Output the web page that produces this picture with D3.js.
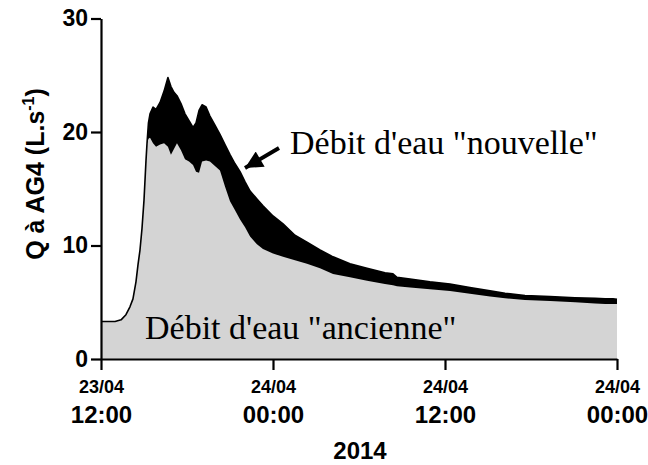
<!DOCTYPE html>
<html>
<head>
<meta charset="utf-8">
<script src="https://cdn.jsdelivr.net/npm/d3@7"></script>
<style>
  body { margin: 0; background: #fff; }
  svg { display: block; }
</style>
</head>
<body>
<script>

var width = 648, height = 465;

// hours after 23/04/2014 12:00
var hours = [0, 0.98, 1.40, 1.74, 2.02, 2.23, 2.44, 2.58, 2.72, 2.86, 3.00, 3.14, 3.21,
  3.31, 3.42, 3.63, 3.84, 4.12, 4.40, 4.67, 4.88, 5.09, 5.30, 5.58, 5.86, 6.14, 6.42,
  6.63, 6.84, 7.05, 7.33, 7.60, 7.95, 8.30, 8.65, 9.00, 9.35, 9.70, 10.05, 10.40, 10.88,
  11.30, 12.00, 12.70, 13.53, 14.37, 15.28, 16.19, 17.37, 18.56, 19.81, 20.37, 20.65,
  21.56, 22.95, 24.35, 25.74, 27.14, 28.19, 29.58, 31.33, 33.07, 34.47, 35.17, 35.72, 36.0];

// total flow (old + new water), L/s
var totalFlow = [3.3, 3.3, 3.45, 3.9, 4.6, 5.3, 6.8, 8.3, 9.6, 11.5, 14.0, 17.5, 19.0,
  20.8, 21.6, 22.2, 22.0, 22.6, 23.6, 24.8, 24.0, 23.5, 23.2, 22.5, 21.6, 21.0, 20.4,
  20.8, 21.9, 22.4, 22.2, 21.4, 20.6, 19.8, 18.9, 18.0, 17.2, 16.5, 15.6, 14.8, 14.1,
  13.5, 12.6, 11.9, 10.9, 10.3, 9.6, 9.0, 8.4, 8.0, 7.6, 7.5, 7.2,
  7.05, 6.8, 6.6, 6.3, 6.0, 5.8, 5.6, 5.5, 5.4, 5.35, 5.3, 5.3, 5.25];

// old water ("ancienne"), L/s
var oldFlow = [3.3, 3.3, 3.45, 3.9, 4.6, 5.3, 6.8, 8.3, 9.6, 11.5, 14.0, 17.5, 19.0,
  19.4, 19.5, 19.0, 18.7, 18.9, 19.0, 18.7, 18.0, 18.5, 19.0, 18.4, 17.6, 17.4, 17.1,
  16.5, 16.4, 17.4, 17.5, 17.4, 17.0, 16.6, 15.2, 13.9, 13.1, 12.3, 11.6, 10.8, 10.1,
  9.7, 9.3, 9.0, 8.7, 8.4, 8.0, 7.5, 7.2, 6.9, 6.6, 6.5, 6.4,
  6.3, 6.15, 6.0, 5.75, 5.5, 5.35, 5.2, 5.1, 5.0, 4.9, 4.85, 4.85, 4.85];

var yTicks = [0, 10, 20, 30];
var xTickDates = ["23/04", "24/04", "24/04", "24/04"];
var xTickTimes = ["12:00", "00:00", "12:00", "00:00"];

var start = new Date(2014, 3, 23, 12, 0);
var end = new Date(2014, 3, 25, 0, 0);

var data = hours.map(function(h, i) {
  return {date: new Date(start.getTime() + h * 3600e3), total: totalFlow[i], old: oldFlow[i]};
});

var xScale = d3.scaleTime()
    .domain([start, end])
    .range([101, 617]);

var yScale = d3.scaleLinear()
    .domain([0, 30])
    .range([359, 18.5]);

var svg = d3.select("body").append("svg")
    .attr("width", width)
    .attr("height", height);

var sans = "'Liberation Sans', Arial, sans-serif";
var serif = "'Liberation Serif', 'Times New Roman', serif";

// new water = black band on top
var totalArea = d3.area()
    .x(function(d) { return xScale(d.date); })
    .y0(yScale(0))
    .y1(function(d) { return yScale(d.total); });

var oldArea = d3.area()
    .x(function(d) { return xScale(d.date); })
    .y0(yScale(0))
    .y1(function(d) { return yScale(d.old); });

var totalLine = d3.line()
    .x(function(d) { return xScale(d.date); })
    .y(function(d) { return yScale(d.total); });

svg.append("path")
    .datum(data)
    .attr("d", totalArea)
    .style("fill", "#000");

svg.append("path")
    .datum(data)
    .attr("d", oldArea)
    .style("fill", "#d4d4d4");

svg.append("path")
    .datum(data)
    .attr("d", totalLine)
    .style("fill", "none")
    .style("stroke", "#000")
    .style("stroke-width", "1.6px")
    .style("stroke-linejoin", "round");

// axes
var yAxis = d3.axisLeft(yScale)
    .tickValues(yTicks)
    .tickSize(10)
    .tickSizeOuter(0)
    .tickPadding(3);

var xTickValues = xTickDates.map(function(d, i) { return d3.timeHour.offset(start, i * 12); });

var xAxis = d3.axisBottom(xScale)
    .tickValues(xTickValues)
    .tickSize(11)
    .tickSizeOuter(0)
    .tickFormat("");

var gy = svg.append("g")
    .attr("transform", "translate(101,0)")
    .call(yAxis);

gy.selectAll("text")
    .style("font-family", sans)
    .style("font-weight", "bold")
    .style("font-size", "23px")
    .style("fill", "#000");

var gx = svg.append("g")
    .attr("transform", "translate(0," + yScale(0) + ")")
    .call(xAxis);

svg.selectAll(".domain, .tick line")
    .style("stroke", "#000")
    .style("stroke-width", "2.2px");

gx.selectAll(".tick").each(function(d, i) {
  var t = d3.select(this);
  t.append("text")
    .attr("y", 34)
    .style("text-anchor", "middle")
    .style("font-family", sans)
    .style("font-weight", "bold")
    .style("font-size", "18px")
    .style("fill", "#000")
    .text(xTickDates[i]);
  t.append("text")
    .attr("y", 64)
    .style("text-anchor", "middle")
    .style("font-family", sans)
    .style("font-weight", "bold")
    .style("font-size", "24px")
    .style("fill", "#000")
    .text(xTickTimes[i]);
});

// axis titles
svg.append("text")
    .attr("x", 360)
    .attr("y", 459)
    .style("text-anchor", "middle")
    .style("font-family", sans)
    .style("font-weight", "bold")
    .style("font-size", "24px")
    .text("2014");

var ylab = svg.append("text")
    .attr("transform", "rotate(-90)")
    .attr("x", -174)
    .attr("y", 44)
    .style("text-anchor", "middle")
    .style("font-family", sans)
    .style("font-weight", "bold")
    .style("font-size", "25px");
ylab.append("tspan").text("Q à AG4 (L.s");
ylab.append("tspan").attr("dy", -10).style("font-size", "16px").text("-1");
ylab.append("tspan").attr("dy", 10).text(")");

// annotations
svg.append("text")
    .attr("x", 290)
    .attr("y", 154)
    .style("font-family", serif)
    .style("font-size", "34px")
    .text("Débit d'eau \"nouvelle\"");

svg.append("text")
    .attr("x", 145)
    .attr("y", 339)
    .style("font-family", serif)
    .style("font-size", "34px")
    .text("Débit d'eau \"ancienne\"");

// arrow pointing at the black band
svg.append("defs").append("marker")
    .attr("id", "head")
    .attr("viewBox", "0 0 10 10")
    .attr("refX", 10)
    .attr("refY", 5)
    .attr("markerWidth", 4.8)
    .attr("markerHeight", 4.4)
    .attr("markerUnits", "strokeWidth")
    .attr("orient", "auto")
    .append("path")
    .attr("d", "M0,0L10,5L0,10Z")
    .style("fill", "#000");

svg.append("line")
    .attr("x1", 279)
    .attr("y1", 148)
    .attr("x2", 245)
    .attr("y2", 168)
    .style("stroke", "#000")
    .style("stroke-width", "4px")
    .attr("marker-end", "url(#head)");

</script>
</body>
</html>
